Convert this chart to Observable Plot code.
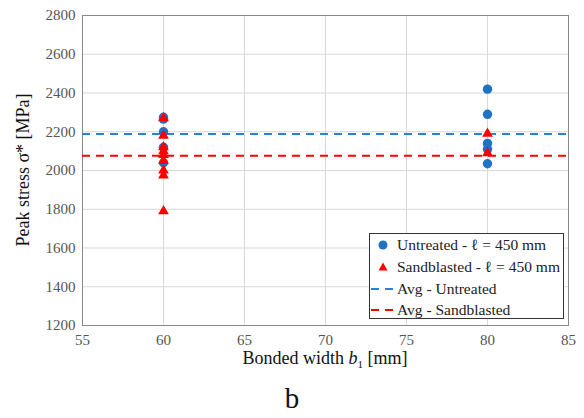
<!DOCTYPE html>
<html><head><meta charset="utf-8">
<script src="https://cdn.jsdelivr.net/npm/d3@7"></script>
<script src="https://cdn.jsdelivr.net/npm/@observablehq/plot@0.6"></script>
<style>
body{margin:0;background:#fff;font-family:"Times New Roman",serif;}
#wrap{position:relative;width:584px;}
#chart svg text{font-family:"Times New Roman",serif !important;}
#legend{position:absolute;left:369px;top:233px;width:195px;height:86px;border:1px solid #333;background:#fff;box-sizing:border-box;font-size:15.5px;color:#222;}
.row{position:absolute;left:0;height:20px;display:flex;align-items:center;white-space:nowrap;}
.row svg{width:26px;height:20px;margin-right:1px;}
#cap{width:584px;text-align:center;font-size:29px;line-height:40px;color:#111;}
</style></head><body>
<div id="wrap"><div id="chart"></div>
<div id="legend">
 <div class="row" style="top:1px"><svg><circle cx="13" cy="10" r="4.5" fill="#1f72c4"/></svg><span id="l0"></span></div>
 <div class="row" style="top:23px"><svg><path d="M13,5.5L17.5,13.5L8.5,13.5Z" fill="#ff0000"/></svg><span id="l1"></span></div>
 <div class="row" style="top:45px"><svg><line x1="1" x2="24" y1="10" y2="10" stroke="#2a82d4" stroke-width="2" stroke-dasharray="8,6"/></svg><span id="l2"></span></div>
 <div class="row" style="top:66px"><svg><line x1="1" x2="24" y1="10" y2="10" stroke="#ff0000" stroke-width="2" stroke-dasharray="8,6"/></svg><span id="l3"></span></div>
</div>
</div>
<div id="cap">b</div>
<script>
const FONT = '"Times New Roman", serif';
const seriesNames = ["Untreated - \u2113 = 450 mm", "Sandblasted - \u2113 = 450 mm", "Avg - Untreated", "Avg - Sandblasted"];
const untreatedWidth  = [60, 60, 60, 60, 60, 80, 80, 80, 80, 80];
const untreatedStress = [2275, 2265, 2200, 2120, 2040, 2420, 2290, 2140, 2110, 2035];
const sandWidth  = [60, 60, 60, 60, 60, 60, 60, 60, 60, 80, 80];
const sandStress = [2270, 2180, 2120, 2100, 2080, 2050, 2000, 1975, 1790, 2190, 2090];
const avgUntreated = [2188];
const avgSandblasted = [2076];
const xTicks = [55, 60, 65, 70, 75, 80, 85];
const yTicks = [1200, 1400, 1600, 1800, 2000, 2200, 2400, 2600, 2800];

seriesNames.forEach((n, i) => document.getElementById("l" + i).textContent = n);

const untreated = untreatedWidth.map((w, i) => ({w, s: untreatedStress[i]}));
const sand = sandWidth.map((w, i) => ({w, s: sandStress[i]}));

const chart = Plot.plot({
  width: 584, height: 378,
  marginLeft: 82, marginRight: 16, marginTop: 15, marginBottom: 53,
  style: {fontFamily: FONT, fontSize: "15px", color: "#555", background: "#fff"},
  x: {domain: [55, 85]},
  y: {domain: [1200, 2800]},
  marks: [
    Plot.gridX(xTicks, {stroke: "#d8d8d8", strokeOpacity: 1}),
    Plot.gridY(yTicks, {stroke: "#d8d8d8", strokeOpacity: 1}),
    Plot.frame({stroke: "#888"}),
    Plot.axisX({ticks: xTicks, tickSize: 0, tickPadding: 9, label: null, fill: "#555", tickFormat: "d"}),
    Plot.axisY({ticks: yTicks, tickSize: 0, tickPadding: 7, label: null, fill: "#555", tickFormat: "d"}),
    Plot.ruleY(avgUntreated, {stroke: "#2a82d4", strokeWidth: 2, strokeDasharray: "8,6"}),
    Plot.ruleY(avgSandblasted, {stroke: "#ff0000", strokeWidth: 2, strokeDasharray: "8,6"}),
    Plot.dot(untreated, {x: "w", y: "s", r: 4.7, fill: "#1f72c4", stroke: "none"}),
    Plot.dot(sand, {x: "w", y: "s", symbol: "triangle", r: 4, fill: "#ff0000", stroke: "none"})
  ]
});
document.getElementById("chart").appendChild(chart);

const svg = d3.select(chart);
const xl = svg.append("text").attr("x", 325).attr("y", 364).attr("text-anchor", "middle")
  .style("font-size", "18px").attr("fill", "#111");
xl.append("tspan").text("Bonded width ");
xl.append("tspan").attr("font-style", "italic").text("b");
xl.append("tspan").style("font-size", "11px").attr("dy", 4).text("1");
xl.append("tspan").attr("dy", -4).text(" [mm]");

svg.append("text").attr("transform", "translate(29,170) rotate(-90)").attr("text-anchor", "middle")
  .style("font-size", "18px").attr("fill", "#111")
  .text("Peak stress \u03c3* [MPa]");
</script>
</body></html>
